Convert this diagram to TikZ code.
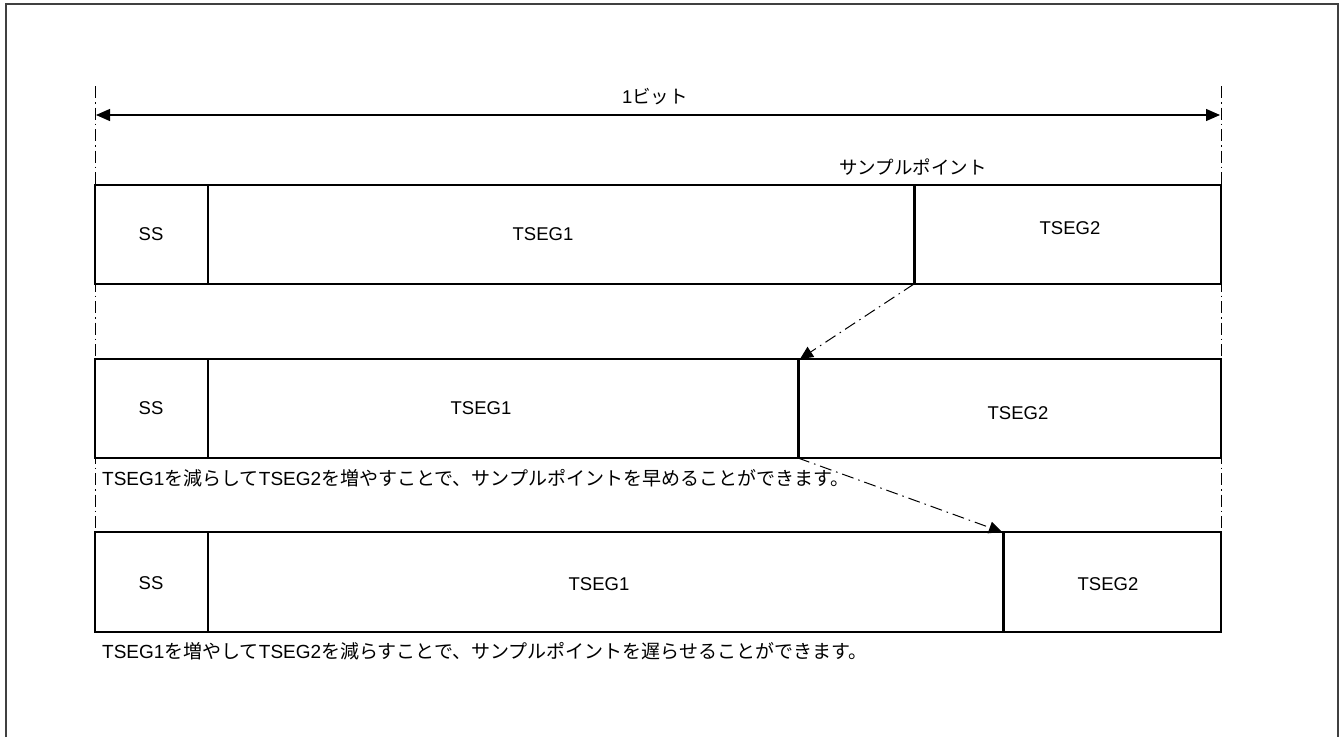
\documentclass[tikz,border=0pt]{standalone}
\usepackage{fontspec}
\setmainfont{Liberation Sans}
\newfontfamily\jpfont{Noto Sans CJK JP}
\newcommand\jt[1]{{\jpfont #1}}
\usetikzlibrary{arrows.meta}
\tikzset{
  seg/.style={draw, line width=1.2pt},
  splpoint/.style={line width=3pt},
  guide/.style={line width=1pt, dash pattern=on 12pt off 4pt on 1.5pt off 4pt},
  shiftarrow/.style={line width=1pt, dash pattern=on 12pt off 5pt on 1.5pt off 5pt,
    -{Triangle[length=13pt,width=12pt]}},
  lbl/.style={font=\fontsize{18.5}{20}\selectfont, inner sep=0pt},
  note/.style={font=\fontsize{19}{21}\selectfont, inner sep=0pt, anchor=west},
}
\begin{document}
\begin{tikzpicture}[x=1pt,y=-1pt]
    \useasboundingbox (0,0) rectangle (1343,737);
    % frame, open at the bottom
    \draw[line width=1.5pt, black!75] (6,737) -- (6,4) -- (1338,4) -- (1338,737);
    % one bit
    \draw[guide] (95,86) -- (95,632);
    \draw[guide] (1221,86) -- (1221,632);
    \coordinate (bitL) at (96,115);
    \coordinate (bitR) at (1220,115);
    \draw[line width=1.2pt, {Triangle[length=14pt,width=12pt]}-{Triangle[length=14pt,width=12pt]}] (bitL) -- (bitR);
    \node[lbl] (bit) at (655,97) {1\jt{ビット}};
    \node[lbl] (spl) at (913,167) {\jt{サンプルポイント}};
    % row 1
    \draw[seg] (95,185) rectangle (1221,284);
    \draw[seg] (208,185) -- (208,284);
    \draw[splpoint] (914,185) coordinate (sp1t) -- (914,284) coordinate (sp1b);
    \node[lbl] (ss1) at (151,234) {SS};
    \node[lbl] (ta1) at (543,234) {TSEG1};
    \node[lbl] (tb1) at (1070,228) {TSEG2};
    % row 2
    \draw[seg] (95,359) rectangle (1221,458);
    \draw[seg] (208,359) -- (208,458);
    \draw[splpoint] (798,359) coordinate (sp2t) -- (798,458) coordinate (sp2b);
    \node[lbl] (ss2) at (151,408) {SS};
    \node[lbl] (ta2) at (481,408) {TSEG1};
    \node[lbl] (tb2) at (1018,413) {TSEG2};
    \node[note] (early) at (102,478) {TSEG1\jt{を減らして}TSEG2\jt{を増やすことで、サンプルポイントを早めることができます。}};
    % row 3
    \draw[seg] (95,532) rectangle (1221,632);
    \draw[seg] (208,532) -- (208,632);
    \draw[splpoint] (1003,532) coordinate (sp3t) -- (1003,632) coordinate (sp3b);
    \node[lbl] (ss3) at (151,583) {SS};
    \node[lbl] (ta3) at (599,584) {TSEG1};
    \node[lbl] (tb3) at (1108,584) {TSEG2};
    \node[note] (late) at (102,651) {TSEG1\jt{を増やして}TSEG2\jt{を減らすことで、サンプルポイントを遅らせることができます。}};
    % sample point shifts
    \draw[shiftarrow] (sp1b) -- ([xshift=2pt]sp2t);
    \draw[shiftarrow] (sp2b) -- ([xshift=-1pt]sp3t);
\end{tikzpicture}
\end{document}
